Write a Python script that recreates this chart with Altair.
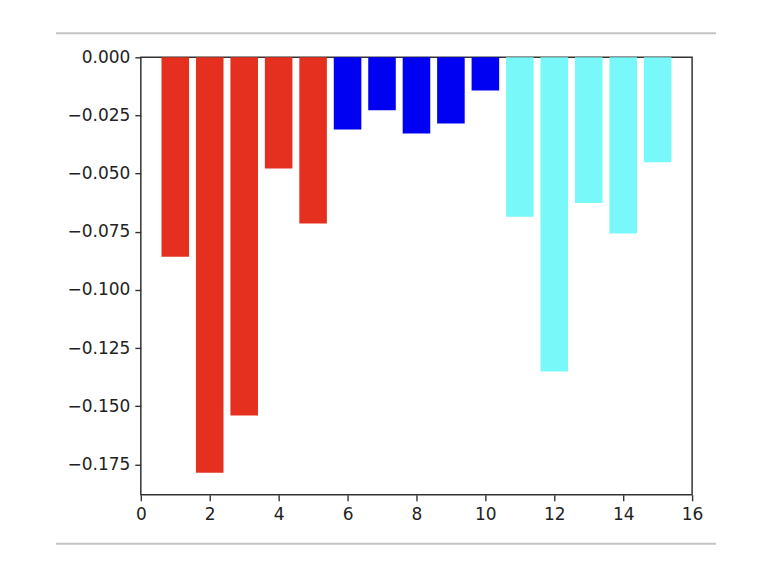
import altair as alt
import pandas as pd

positions = list(range(1, 16))
values = [-0.0857, -0.1786, -0.1540, -0.0478, -0.0714,
          -0.0310, -0.0228, -0.0328, -0.0285, -0.0143,
          -0.0685, -0.1350, -0.0626, -0.0757, -0.0451]
groups = ["a"] * 5 + ["b"] * 5 + ["c"] * 5
group_colors = ["#e5301f", "#0000f2", "#78f8f8"]
y_ticks = [0.0, -0.025, -0.05, -0.075, -0.1, -0.125, -0.15, -0.175]
x_ticks = [0, 2, 4, 6, 8, 10, 12, 14, 16]
bar_width = 0.8

df = pd.DataFrame({"pos": positions, "val": values, "grp": groups})
df["x0"] = df["pos"] - bar_width / 2
df["x1"] = df["pos"] + bar_width / 2

W, H = 552, 438

bars = alt.Chart(df).mark_bar(stroke=None).encode(
    x=alt.X("x0:Q", scale=alt.Scale(domain=[0, 16], nice=False, zero=False),
            axis=alt.Axis(values=x_ticks, format="d", title=None, labelPadding=6)),
    x2="x1:Q",
    y=alt.Y("val:Q", scale=alt.Scale(domain=[-0.188, 0], nice=False),
            axis=alt.Axis(values=y_ticks, format=".3f", title=None, labelPadding=5)),
    y2=alt.datum(0),
    color=alt.Color("grp:N", scale=alt.Scale(domain=["a", "b", "c"], range=group_colors), legend=None),
)

lines_df = pd.DataFrame({"k": [0]})
top_line = alt.Chart(lines_df).mark_rule(color="#c4c4c4", strokeWidth=2).encode(
    x=alt.value(-85), x2=alt.value(576), y=alt.value(-24)
)
bottom_line = alt.Chart(lines_df).mark_rule(color="#c4c4c4", strokeWidth=2).encode(
    x=alt.value(-85), x2=alt.value(576), y=alt.value(487)
)

chart = alt.layer(bars, top_line, bottom_line).properties(
    width=W, height=H,
    background="white",
    autosize=alt.AutoSizeParams(type="none"),
    padding={"left": 133, "top": 49, "right": 80, "bottom": 80},
).configure_view(
    stroke="#333333", strokeWidth=1.5
).configure_axis(
    domain=False, grid=False, labelFont="DejaVu Sans", labelFontSize=17,
    labelColor="#222222", tickColor="#333333", tickSize=6, tickWidth=1.4,
    labelFlush=False, labelOverlap=False
)

chart.save("out.html", embed_options={"renderer": "svg", "actions": False})
